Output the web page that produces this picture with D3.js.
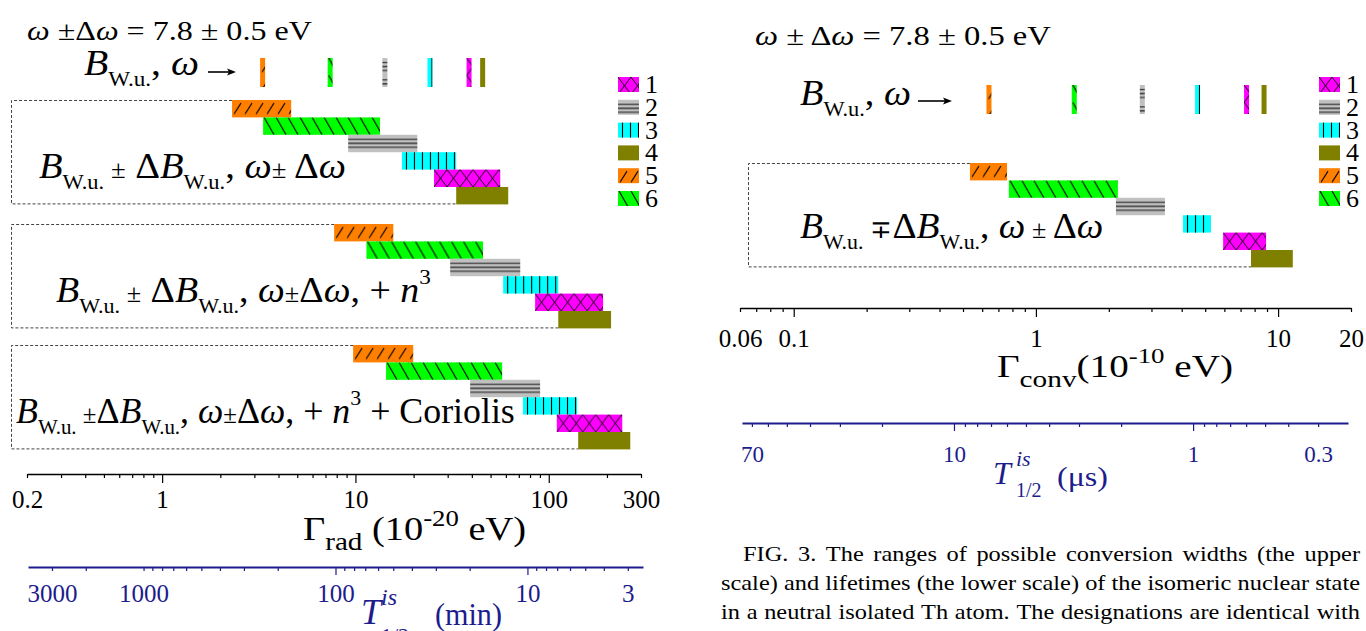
<!DOCTYPE html>
<html>
<head>
<meta charset="utf-8">
<script src="https://cdn.jsdelivr.net/npm/d3@7"></script>
<style>
body { margin: 0; background: #fff; }
svg { display: block; font-family: "Times New Roman", Tinos, "Liberation Serif", serif; }
text { white-space: pre; }
</style>
</head>
<body>
<svg id="fig" width="1366" height="631"></svg>
<script>
// bar rows from top to bottom (legend numbers)
var rowIds = [5, 6, 2, 3, 1, 4];
var legendIds = [1, 2, 3, 4, 5, 6];
var colors = {1: "#ff00ff", 2: "#c0c0c0", 3: "#00ffff", 4: "#808000", 5: "#ff8000", 6: "#00ff00"};

// radiative widths, 10^-20 eV (left figure)
var radPoint = [3.31, 7.4, 14.2, 24.3, 38.7, 45.5];
var radLo1 = [2.30, 3.33, 9.17, 17.4, 25.5, 33.2];
var radHi1 = [4.65, 13.4, 20.9, 33.2, 56.1, 61.7];
var radLo2 = [7.76, 11.4, 30.9, 58.1, 85, 112];
var radHi2 = [15.7, 45.7, 71.2, 112, 191, 210];
var radLo3 = [9.73, 14.4, 39.2, 73.6, 110, 142];
var radHi3 = [19.9, 57.4, 90.2, 140, 240, 264];

// conversion widths, 10^-10 eV (right figure)
var convPoint = [0.64, 1.44, 2.75, 4.65, 7.41, 8.75];
var convLo = [0.534, 0.773, 2.14, 4.05, 5.93, 7.73];
var convHi = [0.76, 2.18, 3.41, 5.28, 8.92, 11.5];

// tick labels
var radLabels = [0.2, 1, 10, 100, 300];
var radTLabels = [3000, 1000, 100, 10, 3];
var convLabels = [0.06, 0.1, 1, 10, 20];
var convTLabels = [70, 10, 1, 0.3];

var caption = [
  "FIG. 3. The ranges of possible conversion widths (the upper",
  "scale) and lifetimes (the lower scale) of the isomeric nuclear state",
  "in a neutral isolated Th atom. The designations are identical with"
];

var NAVY = "#1c1c8c";
var RH = 17.4;

var svg = d3.select("#fig");
var defs = svg.append("defs");

var xRad = d3.scaleLog().domain([0.2, 300]).range([27, 641]);
var xRadT = d3.scaleLog().domain([4000, 2.5]).range([28, 643]);
var xConv = d3.scaleLog().domain([0.06, 20]).range([740, 1351]);
var xConvT = d3.scaleLog().domain([77, 0.225]).range([742, 1348]);

function pattern(id, w, h, fill, d, sw, stroke) {
  var p = defs.append("pattern").attr("id", id)
    .attr("patternUnits", "userSpaceOnUse")
    .attr("width", w).attr("height", h);
  p.append("rect").attr("width", w).attr("height", h).attr("fill", fill);
  if (d) p.append("path").attr("d", d).attr("fill", "none")
    .attr("stroke", stroke || "#000").attr("stroke-width", sw);
}
pattern("pat1", 13, RH, colors[1], "M0,0L13," + RH + "M13,0L0," + RH, 0.9);
pattern("pat2", 10, RH, colors[2], "M0,4.5H10M0,8.5H10M0,12.5H10", 1.3, "#333");
pattern("pat3", 8, RH, colors[3], "M4.5,0V" + RH, 1.1);
pattern("pat4", 10, RH, colors[4]);
pattern("pat5", 11, RH, colors[5], "M2,14L9,3", 1.1);
pattern("pat6", 12, RH, colors[6], "M1,0L11," + RH, 1.1);

function drawBars(x, top, lo, hi) {
  var y = d3.scaleBand().domain(rowIds).range([top, top + RH * 6]);
  svg.append("g").selectAll("g").data(rowIds).join("g")
    .attr("transform", function(id, i) { return "translate(" + x(lo[i]) + "," + y(id) + ")"; })
    .append("rect")
    .attr("width", function(id, i) { return x(hi[i]) - x(lo[i]); })
    .attr("height", y.bandwidth())
    .attr("fill", function(id) { return "url(#pat" + id + ")"; });
}

function drawMarkers(x, top, h, vals) {
  svg.append("g").selectAll("g").data(rowIds).join("g")
    .attr("transform", function(id, i) { return "translate(" + (x(vals[i]) - 2.5) + "," + top + ")"; })
    .append("rect")
    .attr("width", 5).attr("height", h)
    .attr("fill", function(id) { return "url(#pat" + id + ")"; });
}

function drawFrame(x, top, lo, left) {
  var bottom = top + RH * 6;
  svg.append("path")
    .attr("d", "M" + x(lo[0]) + "," + (top + 0.5) + "H" + (left + 0.5) + "V" + (bottom - 0.5) + "H" + x(lo[5]))
    .attr("fill", "none").attr("stroke", "#444").attr("stroke-width", 1)
    .attr("stroke-dasharray", "3,2");
}

function drawLegend(x0, top) {
  var y = d3.scaleBand().domain(legendIds).range([top, top + 6 * 22.8]);
  var g = svg.append("g").selectAll("g").data(legendIds).join("g")
    .attr("transform", function(id) { return "translate(" + x0 + "," + y(id) + ")"; });
  g.append("rect").attr("width", 21).attr("height", 15)
    .attr("fill", function(id) { return "url(#pat" + id + ")"; });
  g.append("text").attr("x", 27).attr("y", 16).attr("font-size", 26)
    .text(function(id) { return id; });
}

function same(a, b) { return Math.abs(a - b) / b < 1e-6; }

function drawAxis(scale, y, labels, color, pad, fs, minor, major, sw, maxV) {
  var ticks = scale.ticks().filter(function(d) { return !maxV || d <= maxV; });
  var g = svg.append("g").attr("transform", "translate(0," + y + ")")
    .call(d3.axisBottom(scale).tickValues(ticks).tickSize(minor).tickSizeOuter(0).tickPadding(pad)
      .tickFormat(function(d) {
        var l = labels.find(function(v) { return same(d, v); });
        return l === undefined ? "" : String(l);
      }));
  g.attr("font-family", null).attr("font-size", null);
  g.select(".domain").attr("stroke", color).attr("stroke-width", sw);
  g.selectAll(".tick line").attr("stroke", color).attr("stroke-width", 1.2)
    .attr("y2", function(d) { return [0.1, 1, 10, 100].some(function(v) { return same(d, v); }) ? major : minor; });
  g.selectAll(".tick text").attr("fill", color).attr("font-size", fs);
  return g;
}

// text built from parts; w = width it has to span in the picture
function rich(x, y, size, parts, fill, w) {
  var t = svg.append("text").attr("x", 0).attr("y", 0).attr("font-size", size).attr("fill", fill || "#000");
  var cur = 0;
  parts.forEach(function(p) {
    var o = p[1] || {};
    var sh = o.sh || 0;
    var ts = t.append("tspan").attr("dy", sh - cur).text(p[0]);
    cur = sh;
    if (o.s) ts.attr("font-size", o.s);
    if (o.i) ts.attr("font-style", "italic");
  });
  var sx = w ? w / t.node().getBBox().width : 1;
  t.attr("transform", "translate(" + x + "," + y + ") scale(" + sx + ",1)");
  return t;
}

function arrow(x1, x2, y) {
  svg.append("path").attr("d", "M" + x1 + "," + y + "H" + (x2 - 6))
    .attr("stroke", "#000").attr("stroke-width", 1.6);
  svg.append("path").attr("d", "M" + x2 + "," + y + "L" + (x2 - 9) + "," + (y - 3.5) + "L" + (x2 - 7) + "," + y + "L" + (x2 - 9) + "," + (y + 3.5) + "Z")
    .attr("fill", "#000");
}

// justified caption, glyphs widened so the longest line has plain spaces
function caption3(lines, xs, x1, ys, size) {
  var probe = svg.append("text").attr("font-size", size).text(lines[1]);
  var sx = (x1 - xs[1]) / probe.node().getComputedTextLength();
  probe.remove();
  lines.forEach(function(str, k) {
    var words = str.split(" ");
    var g = svg.append("g").attr("font-size", size)
      .attr("transform", "translate(" + xs[k] + "," + ys[k] + ") scale(" + sx + ",1)");
    var nodes = words.map(function(wd) { return g.append("text").text(wd); });
    var widths = nodes.map(function(n) { return n.node().getComputedTextLength(); });
    var gap = ((x1 - xs[k]) / sx - d3.sum(widths)) / (words.length - 1);
    var xx = 0;
    nodes.forEach(function(n, i) { n.attr("x", xx); xx += widths[i] + gap; });
  });
}

var sub = {s: 21, sh: 11};
var it = {i: 1};

// ---------- left figure ----------
rich(27, 40, 28, [["ω", it], [" ±Δ"], ["ω", it], [" = 7.8 ± 0.5 eV"]], null, 285);
rich(84, 75, 36, [["B", it], ["W.u.", sub], [","], [" ω", it]], null, 115);
arrow(208, 236, 72);
drawMarkers(xRad, 58, 29, radPoint);

drawFrame(xRad, 100, radLo1, 11);
drawFrame(xRad, 224, radLo2, 11);
drawFrame(xRad, 345, radLo3, 11);
drawBars(xRad, 100, radLo1, radHi1);
drawBars(xRad, 224, radLo2, radHi2);
drawBars(xRad, 345, radLo3, radHi3);

rich(39, 178, 36, [["B", it], ["W.u.", sub], [" ±", {s: 25}], [" Δ"], ["B", it], ["W.u.", sub], [","], [" ω", it], ["±", {s: 25}], [" Δ"], ["ω", it]], null, 307);
rich(56, 302, 36, [["B", it], ["W.u.", sub], [" ±", {s: 25}], [" Δ"], ["B", it], ["W.u.", sub], [","], [" ω", it], ["±", {s: 25}], ["Δ"], ["ω", it], [", + "], ["n", it], ["3", {s: 22, sh: -18}]], null, 375);
rich(16, 423, 36, [["B", it], ["W.u.", sub], [" ±", {s: 25}], ["Δ"], ["B", it], ["W.u.", sub], [","], [" ω", it], ["±", {s: 25}], ["Δ"], ["ω", it], [", + "], ["n", it], ["3", {s: 22, sh: -18}], [" + Coriolis"]], null, 499);

drawLegend(618, 77);

drawAxis(xRad, 474, radLabels, "#000", 12, 25, 4, 9, 1.6);
rich(303, 540, 33, [["Γ"], ["rad", {s: 25, sh: 10}], [" (10"], ["-20", {s: 23, sh: -14}], [" eV)"]], null, 223);

drawAxis(xRadT, 567, radTLabels, NAVY, 13, 25, 4, 8, 2, 3000);
rich(361, 624, 36, [["T", it]], NAVY);
rich(381, 605, 24, [["is", it]], NAVY);
rich(381, 643, 22, [["1/2"]], NAVY);
rich(435, 625, 32, [["(min)"]], NAVY, 67);

// ---------- right figure ----------
rich(755, 45, 28, [["ω", it], [" ± Δ"], ["ω", it], [" = 7.8 ± 0.5 eV"]], null, 296);
rich(800, 105, 36, [["B", it], ["W.u.", sub], [","], [" ω", it]], null, 111);
arrow(918, 952, 101);
drawMarkers(xConv, 85, 29, convPoint);

drawFrame(xConv, 163, convLo, 748);
drawBars(xConv, 163, convLo, convHi);
rich(800, 238, 36, [["B", it], ["W.u.", sub], [" ∓", {s: 25}], ["Δ"], ["B", it], ["W.u.", sub], [","], [" ω", it], [" ± ", {s: 25}], ["Δ"], ["ω", it]], null, 303);

drawLegend(1319, 77);

drawAxis(xConv, 308, convLabels, "#000", 17, 25, 4, 9, 1.6);
rich(997, 377, 32, [["Γ"], ["conv", {s: 24, sh: 10}], ["(10"], ["-10", {s: 22, sh: -14}], [" eV)"]], null, 236);

drawAxis(xConvT, 423, convTLabels, NAVY, 19, 23, 4, 8, 2);
rich(993, 484, 32, [["T", it]], NAVY);
rich(1016, 466, 22, [["is", it]], NAVY);
rich(1016, 497, 20, [["1/2"]], NAVY);
rich(1057, 486, 28, [["(μs)"]], NAVY, 51);

// caption
caption3(caption, [743, 721, 721], 1360, [561, 590, 619], 20.5);
</script>
</body>
</html>
